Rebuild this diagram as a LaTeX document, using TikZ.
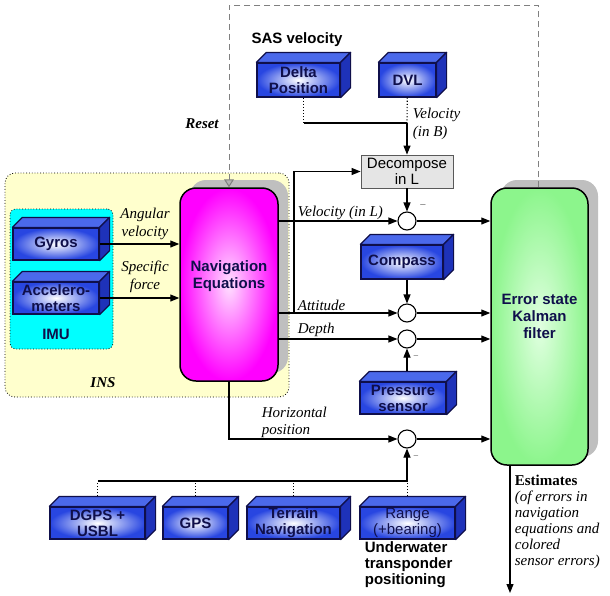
\documentclass[tikz,border=0pt]{standalone}
\usepackage{fontspec}
\setmainfont{Liberation Serif}
\setsansfont{Liberation Sans}
\usetikzlibrary{arrows.meta,shadows}
\definecolor{boxblue}{RGB}{40,70,225}
\definecolor{topblue}{RGB}{75,105,235}
\definecolor{sideblue}{RGB}{30,50,185}
\definecolor{navy}{RGB}{15,15,75}
\definecolor{imucyan}{RGB}{0,255,255}
\definecolor{insyellow}{RGB}{255,255,205}
\definecolor{navpink}{RGB}{255,0,255}
\definecolor{navlight}{RGB}{255,225,255}
\tikzset{
  blk/.style={draw=navy, line width=1.2pt, inner sep=0pt, inner color=white, outer color=boxblue,
    align=center, text=navy, font=\sffamily\bfseries\fontsize{15}{16}\selectfont},
  big/.style={draw, line width=1.5pt, rounded corners=16pt,
    drop shadow={shadow xshift=10pt, shadow yshift=8pt, fill=gray!50, opacity=1}},
  bigtxt/.style={align=center, text=navy, font=\sffamily\bfseries\fontsize{15}{17}\selectfont},
  sig/.style={circle, draw, line width=1.1pt, fill=white, minimum size=18pt, inner sep=0pt},
  lbl/.style={font=\itshape\fontsize{15}{17.5}\selectfont, align=left},
  bold/.style={font=\sffamily\bfseries\fontsize{15}{16}\selectfont},
  >={Triangle[length=9pt,width=7pt]}
}
\begin{document}
\begin{tikzpicture}[x=1pt, y=-1pt, line width=1.1pt]
\useasboundingbox (0,0) rectangle (610,595);
\node[fill=insyellow, draw, dotted, thick, rounded corners=10pt, minimum width=284pt, minimum height=224pt] (ins) at (147,285) {};
\node[fill=imucyan, draw, dotted, thick, rounded corners=6pt, minimum width=103pt, minimum height=140pt] (imu) at (61.5,279) {};
\node[bold, text=navy] (imutxt) at (56,334) {IMU};
\node[font=\bfseries\itshape\fontsize{15}{16}\selectfont] (instxt) at (103,383) {INS};

\node[blk, minimum width=86pt, minimum height=32pt] (gyro) at (56,244) {Gyros};
\node[blk, minimum width=86pt, minimum height=32pt] (accel) at (56,298) {Accelero-\\meters};
\node[blk, minimum width=83pt, minimum height=34pt] (delta) at (298.5,80) {Delta\\Position};
\node[blk, minimum width=57pt, minimum height=34pt] (dvl) at (407.5,80) {DVL};
\node[blk, minimum width=82pt, minimum height=34pt] (compass) at (402,262) {Compass};
\node[blk, minimum width=86pt, minimum height=32pt] (pres) at (403,398) {Pressure\\sensor};
\node[blk, minimum width=95pt, minimum height=32pt] (dgps) at (97.5,523) {DGPS +\\USBL};
\node[blk, minimum width=65pt, minimum height=32pt] (gps) at (195.5,523) {GPS};
\node[blk, minimum width=93pt, minimum height=32pt] (terrain) at (293.5,523) {Terrain\\Navigation};
\node[blk, minimum width=95pt, minimum height=32pt, font=\sffamily\fontsize{15}{16}\selectfont] (range) at (407.5,523) {Range\\(+bearing)};
\foreach \b in {gyro,accel,delta,dvl,compass,pres,dgps,gps,terrain,range} {
  \filldraw[fill=topblue, draw=navy, line width=1.2pt, line join=round] (\b.north west) -- ++(10,-10) -- ([shift={(10,-10)}]\b.north east) -- (\b.north east) -- cycle;
  \filldraw[fill=sideblue, draw=navy, line width=1.2pt, line join=round] (\b.north east) -- ++(10,-10) -- ([shift={(10,-10)}]\b.south east) -- (\b.south east) -- cycle;
}

\node[big, inner color=navlight, outer color=navpink, minimum width=98pt, minimum height=193pt] (nav) at (229,284.5) {};
\node[bigtxt] (navtxt) at (229,276.5) {Navigation\\Equations};
\node[big, inner color={rgb,255:red,225;green,255;blue,225}, outer color={rgb,255:red,140;green,245;blue,140}, minimum width=97pt, minimum height=277pt] (kal) at (539.5,326.5) {};
\node[bigtxt] (kaltxt) at (539.5,316) {Error state\\Kalman\\filter};
\node[draw=gray!70!black, line width=0.8pt, fill=gray!20, minimum width=92pt, minimum height=33pt, inner sep=0pt, align=center, font=\sffamily\fontsize{15}{16}\selectfont] (dec) at (407,171.5) {Decompose\\in L};

\node[sig] (sv) at (407,221) {};
\node[sig] (sa) at (407,313) {};
\node[sig] (sd) at (407,339) {};
\node[sig] (sh) at (407,439) {};

\coordinate (rtop) at (538,5);
\coordinate (vjoin) at (407,123);
\coordinate (attbr) at (294,313);
\coordinate (busl) at (98,481);
\coordinate (busr) at (407,481);
\coordinate (estend) at (510,593);

\draw[gray, line width=1pt, dash pattern=on 6pt off 4pt, -{Triangle[length=8pt,width=10pt,fill=gray!60]}] (kal.north -| rtop) -- (rtop) -| (nav.north);
\node[bold] (sas) at (297,40) {SAS velocity};
\node[font=\bfseries\itshape\fontsize{15}{16}\selectfont] (reset) at (202,124) {Reset};

\draw[->] (gyro) -- (gyro -| nav.west);
\draw[->] (accel) -- (accel -| nav.west);
\node[lbl, align=center] (angvel) at (145,224) {Angular\\velocity};
\node[lbl, align=center] (spforce) at (145,277) {Specific\\force};

\draw[dotted] (dvl) -- (vjoin);
\draw[dotted] ([xshift=5pt]delta.south) -- ([xshift=5pt]delta.south |- vjoin);
\draw ([xshift=5pt]delta.south |- vjoin) -- (vjoin);
\draw[->] (vjoin) -- (dec);
\node[lbl, anchor=west] (velb) at (409,124) {Velocity\\(in B)};
\draw[->] (dec) -- (sv);
\node[font=\small] (m1) at (423,205) {$-$};

\draw[->] (nav.east |- sv) -- (sv);
\draw[->] (nav.east |- sa) -- (sa);
\draw[->] (nav.east |- sd) -- (sd);
\draw[->] (attbr) |- (dec);
\node[lbl, anchor=west] (vell) at (294,213) {Velocity (in L)};
\node[lbl, anchor=west] (att) at (294,305) {Attitude};
\node[lbl, anchor=west] (dep) at (294,330) {Depth};

\draw[->] (compass.south -| sa) -- (sa);
\draw[->] ([yshift=10pt]pres.north -| sd) -- (sd);
\node[font=\scriptsize] (m2) at (416,356) {$-$};

\draw[->] (nav.south) |- (sh);
\node[lbl, anchor=west] (hpos) at (258,422.5) {Horizontal\\position};
\draw[->] (busl) -- (busr) -- (sh);
\node[font=\scriptsize] (m3) at (416,456) {$-$};
\foreach \b in {dgps,gps,terrain,range}
  \draw[dotted] ([yshift=10pt]\b.north) -- (\b.north |- busl);
\node[font=\sffamily\bfseries\fontsize{15}{16}\selectfont, align=left, anchor=west] (uw) at (361,565) {Underwater\\transponder\\positioning};

\foreach \s in {sv,sa,sd,sh}
  \draw[->] (\s) -- (\s -| kal.west);

\draw[->] (estend |- kal.south) -- (estend);
\node[font=\fontsize{15}{16}\selectfont, align=left, anchor=west] (est) at (511,522) {\textbf{Estimates}\\\textit{(of errors in}\\\textit{navigation}\\\textit{equations and}\\\textit{colored}\\\textit{sensor errors)}};
\end{tikzpicture}
\end{document}
